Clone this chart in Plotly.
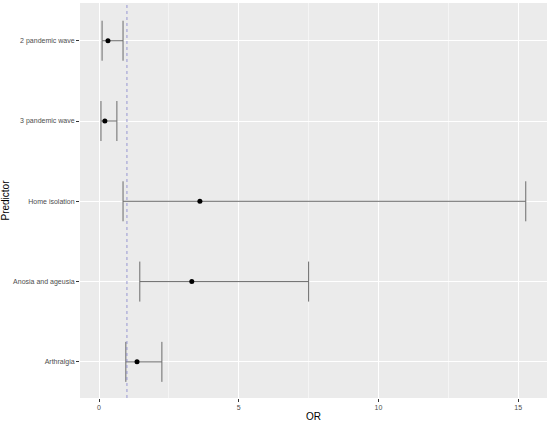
import plotly.graph_objects as go

predictors = ["Arthralgia", "Anosia and ageusia", "Home isolation", "3 pandemic wave", "2 pandemic wave"]
odds_ratio = [1.36, 3.32, 3.61, 0.21, 0.32]
ci_lower = [0.96, 1.46, 0.86, 0.07, 0.11]
ci_upper = [2.25, 7.50, 15.27, 0.64, 0.86]
reference_or = 1

err_plus = [u - o for u, o in zip(ci_upper, odds_ratio)]
err_minus = [o - l for o, l in zip(odds_ratio, ci_lower)]

fig = go.Figure()
fig.add_trace(go.Scatter(
    x=odds_ratio, y=predictors, mode="markers",
    marker=dict(color="black", size=5),
    error_x=dict(type="data", symmetric=False, array=err_plus, arrayminus=err_minus,
                 color="#6b6b6b", thickness=1, width=20),
    showlegend=False,
))

fig.add_vline(x=reference_or, line=dict(color="#8080cc", width=0.8, dash="dot"))

fig.update_layout(
    width=550, height=425,
    margin=dict(l=80, r=3, t=3, b=27),
    paper_bgcolor="white",
    plot_bgcolor="#EBEBEB",
    font=dict(family="Liberation Sans, Arial", color="#4d4d4d", size=7),
)
fig.update_xaxes(
    title=dict(text="OR", font=dict(size=10, color="black"), standoff=2),
    automargin=False,
    range=[-0.68, 16.03], tickvals=[0, 5, 10, 15],
    ticks="outside", ticklen=3, tickcolor="#333333",
    showgrid=True, gridcolor="white", gridwidth=1.2,
    minor=dict(tickvals=[2.5, 7.5, 12.5], showgrid=True, gridcolor="#F5F5F5", gridwidth=0.6),
    zeroline=False, showline=False,
)
fig.update_yaxes(
    title=dict(text="Predictor", font=dict(size=10, color="black"), standoff=3),
    automargin=False,
    categoryorder="array", categoryarray=predictors,
    range=[-0.45, 4.47],
    ticks="outside", ticklen=3, tickcolor="#333333",
    showgrid=True, gridcolor="white", gridwidth=1.2,
    zeroline=False, showline=False,
)

# drop the default page margin so the figure sits at the window's corner
fig.write_html("out.html", config={"displayModeBar": False},
               post_script="document.body.style.margin='0';")
